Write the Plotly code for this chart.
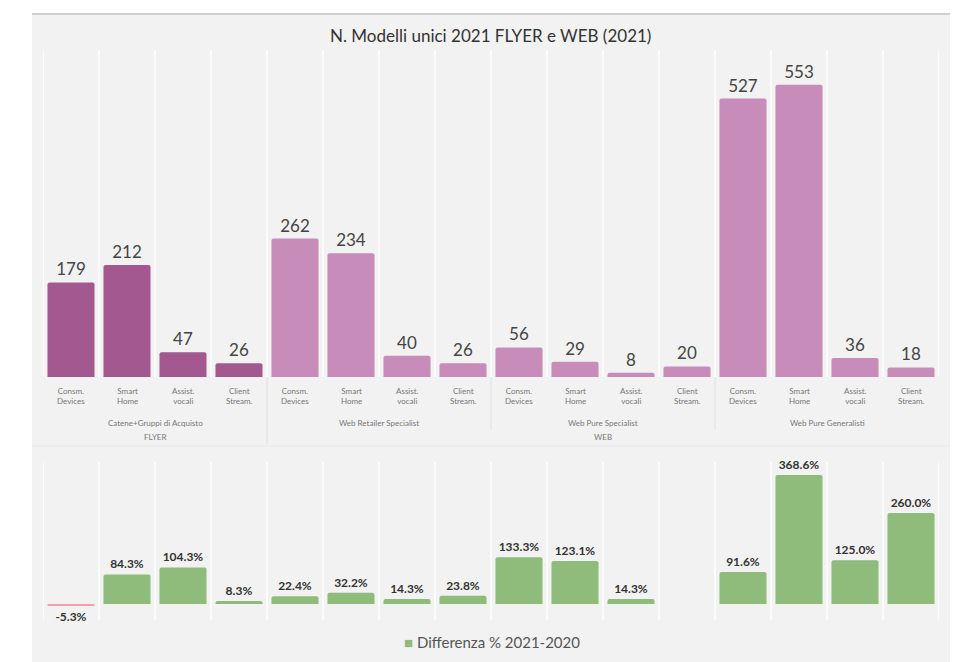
import plotly.graph_objects as go

W, H = 967, 662
OFF = 8  # page body margin in the browser

categories = ["Consm.<br>Devices", "Smart<br>Home", "Assist.<br>vocali", "Client<br>Stream."] * 4
groups = ["Catene+Gruppi di Acquisto", "Web Retailer Specialist", "Web Pure Specialist", "Web Pure Generalisti"]
channels = ["FLYER", "WEB"]
modelli_2021 = [179, 212, 47, 26, 262, 234, 40, 26, 56, 29, 8, 20, 527, 553, 36, 18]
diff_pct = [-5.3, 84.3, 104.3, 8.3, 22.4, 32.2, 14.3, 23.8, 133.3, 123.1, 14.3, None, 91.6, 368.6, 125.0, 260.0]

title = "N. Modelli unici 2021 FLYER e WEB (2021)"
legend_label = "Differenza % 2021-2020"

DARK = "#a3598f"
LIGHT = "#c88cbb"
GREEN = "#8fbb7b"
NEG = "#efa2aa"
FONT = "Lato"

def px(v):
    return (v - OFF) / W

def py(v):
    return 1 - (v - OFF) / H

xpos = list(range(len(modelli_2021)))
top_colors = [DARK if i < 4 else LIGHT for i in xpos]
bot_colors = [NEG if (v is not None and v < 0) else GREEN for v in diff_pct]

fig = go.Figure()
fig.add_trace(go.Bar(
    x=xpos, y=modelli_2021, marker=dict(color=top_colors, line=dict(width=0)),
    text=[str(v) for v in modelli_2021], textposition="outside",
    textfont=dict(family=FONT, size=17, color="#444"),
    cliponaxis=False, xaxis="x", yaxis="y", showlegend=False, hoverinfo="skip"))
fig.add_trace(go.Bar(
    x=xpos, y=diff_pct, marker=dict(color=bot_colors, line=dict(width=0)),
    text=[("" if v is None else f"<b>{v:.1f}%</b>") for v in diff_pct], textposition="outside",
    textfont=dict(family=FONT, size=12, color="#333"),
    cliponaxis=False, xaxis="x2", yaxis="y2", showlegend=False, hoverinfo="skip"))

xdom = [px(43), px(939)]
axis_common = dict(range=[-0.5, 15.5], domain=xdom, showgrid=False, zeroline=False,
                   showticklabels=False, ticks="", showline=False, fixedrange=True)

shapes = [
    dict(type="rect", xref="paper", yref="paper", x0=px(32), x1=px(950), y0=-0.05, y1=py(14),
         fillcolor="#f2f2f2", line=dict(width=0), layer="below"),
    dict(type="line", xref="paper", yref="paper", x0=px(32), x1=px(950), y0=py(14), y1=py(14),
         line=dict(color="#cfcfcf", width=2), layer="below"),
    dict(type="line", xref="paper", yref="paper", x0=px(32), x1=px(950), y0=py(446), y1=py(446),
         line=dict(color="#e8e8e8", width=1), layer="below"),
]
for i in range(17):
    xb = i - 0.5
    shapes.append(dict(type="line", xref="x", yref="paper", x0=xb, x1=xb, y0=py(377), y1=py(50),
                       line=dict(color="#fbfbfb", width=2), layer="below"))
    shapes.append(dict(type="line", xref="x", yref="paper", x0=xb, x1=xb, y0=py(620), y1=py(462),
                       line=dict(color="#fbfbfb", width=2), layer="below"))
shapes.append(dict(type="line", xref="x", yref="paper", x0=3.5, x1=3.5, y0=py(444), y1=py(377),
                   line=dict(color="#dedede", width=1)))
for xb in (7.5, 11.5):
    shapes.append(dict(type="line", xref="x", yref="paper", x0=xb, x1=xb, y0=py(430), y1=py(377),
                       line=dict(color="#e2e2e2", width=1)))

annotations = [
    dict(text=title, xref="paper", yref="paper", x=px(490), y=py(35), showarrow=False,
         font=dict(family=FONT, size=17, color="#333"), xanchor="center", yanchor="middle"),
    dict(text=f"<span style='color:{GREEN}'>■</span> {legend_label}", xref="paper", yref="paper",
         x=px(492), y=py(642), showarrow=False,
         font=dict(family=FONT, size=15, color="#555"), xanchor="center", yanchor="middle"),
]
for i, c in enumerate(categories):
    annotations.append(dict(text=c, xref="x", yref="paper", x=i, y=py(396), showarrow=False,
                            font=dict(family=FONT, size=8, color="#777"), xanchor="center",
                            yanchor="middle"))
for g, name in enumerate(groups):
    annotations.append(dict(text=name, xref="x", yref="paper", x=g * 4 + 1.5, y=py(423),
                            showarrow=False, font=dict(family=FONT, size=8, color="#777"),
                            xanchor="center", yanchor="middle"))
annotations.append(dict(text=channels[0], xref="x", yref="paper", x=1.5, y=py(437), showarrow=False,
                        font=dict(family=FONT, size=8, color="#777"), xanchor="center", yanchor="middle"))
annotations.append(dict(text=channels[1], xref="x", yref="paper", x=9.5, y=py(437), showarrow=False,
                        font=dict(family=FONT, size=8, color="#777"), xanchor="center", yanchor="middle"))

fig.update_layout(
    width=W, height=H, margin=dict(l=0, r=0, t=0, b=0),
    paper_bgcolor="white", plot_bgcolor="rgba(0,0,0,0)",
    font=dict(family=FONT),
    bargap=0.16, barcornerradius=2,
    xaxis=dict(**axis_common, anchor="y"),
    yaxis=dict(range=[0, 600], domain=[py(377), py(60)], visible=False, fixedrange=True),
    xaxis2=dict(**axis_common, anchor="y2"),
    yaxis2=dict(range=[-40, 397], domain=[py(618), py(465)], visible=False, fixedrange=True),
    shapes=shapes, annotations=annotations, showlegend=False,
)

fig.write_html("out.html")
